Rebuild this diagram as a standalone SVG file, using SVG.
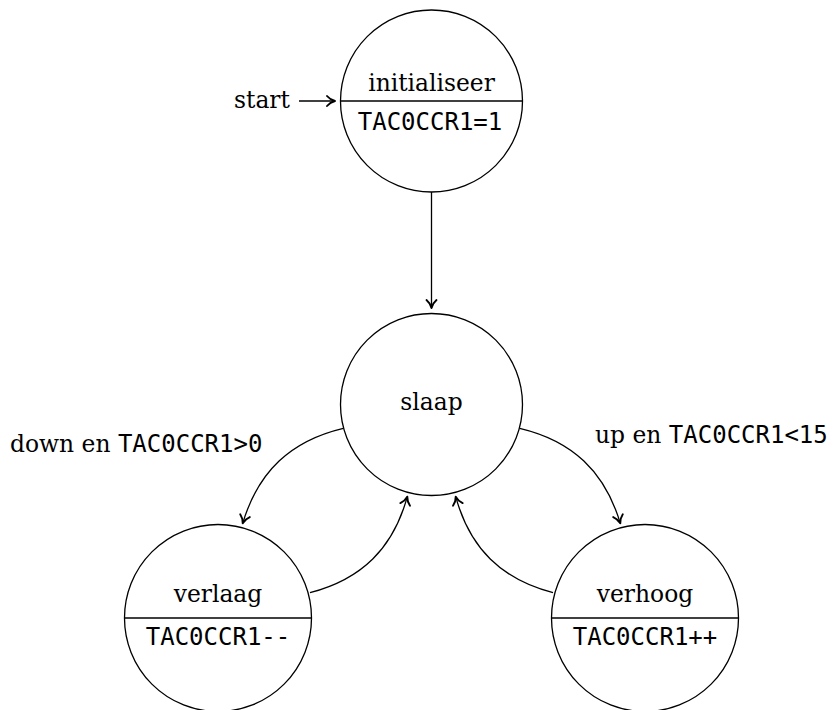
<svg xmlns="http://www.w3.org/2000/svg" width="834" height="710" viewBox="0 0 834 710">
<style>
.node{fill:#fff;stroke:#000;stroke-width:1.3}
.div{stroke:#000;stroke-width:1.3}
.edge{fill:none;stroke:#000;stroke-width:1.3}
.ser{font-family:"DejaVu Serif","Liberation Serif",serif;font-size:23.4px;fill:#000}
.mono{font-family:"DejaVu Sans Mono","Liberation Mono",monospace;font-size:24px;fill:#000}
.mid{text-anchor:middle}
</style>
<defs>
<marker id="arr" markerUnits="userSpaceOnUse" markerWidth="18" markerHeight="18" viewBox="-11 -9 13 18" refX="0" refY="0" orient="auto">
<path d="M -8 -5 C -5.5 -2 -2 -0.5 0 0 C -2 0.5 -5.5 2 -8 5" fill="none" stroke="#000" stroke-width="1.9" stroke-linecap="round" stroke-linejoin="round"/>
</marker>
</defs>
<g id="connectors">
<line class="edge" x1="299" y1="101" x2="335" y2="101" marker-end="url(#arr)"/>
<text class="ser" x="234" y="108">start</text>
<line class="edge" x1="431.5" y1="192" x2="431.5" y2="308" marker-end="url(#arr)"/>
<path class="edge" d="M 343.3 428.3 C 290.6 440.8 258.3 471.4 242.7 523.3" marker-end="url(#arr)"/>
<path class="edge" d="M 310 592.7 C 361.8 579.2 393.1 548.3 407.3 496.7" marker-end="url(#arr)"/>
<path class="edge" d="M 519.7 428.3 C 572.4 440.8 604.7 471.4 620.3 523.3" marker-end="url(#arr)"/>
<path class="edge" d="M 553 592.7 C 501.2 579.2 469.9 548.3 455.7 496.7" marker-end="url(#arr)"/>
<text x="10" y="452.3"><tspan class="ser">down en </tspan><tspan class="mono">TAC0CCR1&gt;0</tspan></text>
<text x="595" y="443.3"><tspan class="ser">up en </tspan><tspan class="mono">TAC0CCR1&lt;15</tspan></text>
</g>
<g id="initialiseer">
<circle class="node" cx="431.5" cy="101" r="91"/>
<line class="div" x1="340.5" y1="101" x2="522.5" y2="101"/>
<text class="ser mid" x="431.5" y="90.7">initialiseer</text>
<text class="mono mid" x="430" y="130">TAC0CCR1=1</text>
</g>
<g id="slaap">
<circle class="node" cx="431.5" cy="404.5" r="91"/>
<text class="ser mid" x="431.5" y="410">slaap</text>
</g>
<g id="verlaag">
<circle class="node" cx="218" cy="618" r="93.5"/>
<line class="div" x1="124.5" y1="618" x2="311.5" y2="618"/>
<text class="ser mid" x="218" y="601.7">verlaag</text>
<text class="mono mid" x="218" y="645">TAC0CCR1--</text>
</g>
<g id="verhoog">
<circle class="node" cx="645" cy="618" r="93.5"/>
<line class="div" x1="551.5" y1="618" x2="738.5" y2="618"/>
<text class="ser mid" x="645" y="601.7">verhoog</text>
<text class="mono mid" x="645" y="645">TAC0CCR1++</text>
</g>
</svg>
